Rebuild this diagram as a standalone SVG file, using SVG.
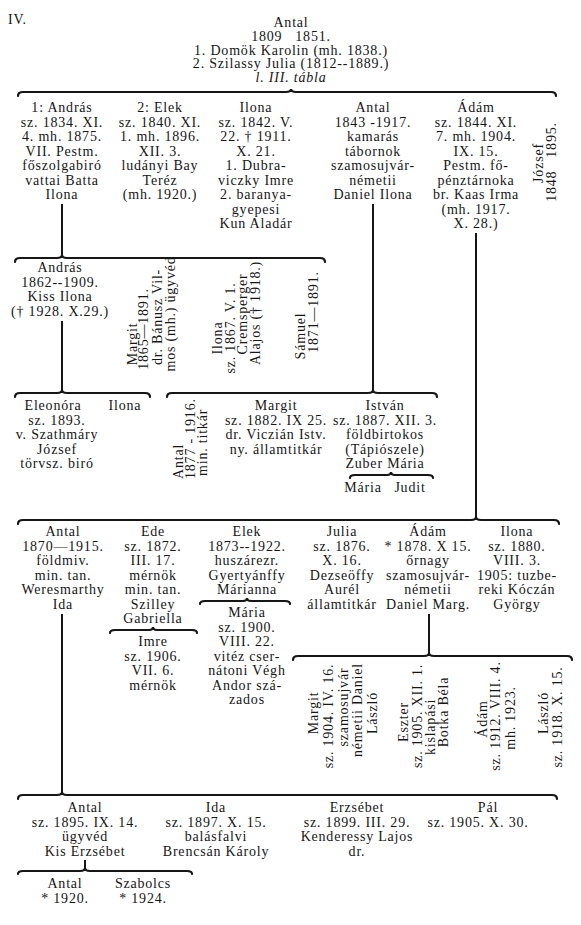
<svg xmlns="http://www.w3.org/2000/svg" width="581" height="925" viewBox="0 0 581 925">
<style>
.t{font-family:"Liberation Serif","Times New Roman",serif;font-size:14px;fill:#161616;text-anchor:middle;letter-spacing:0.8px}
.s{text-anchor:start}
.i{font-style:italic}
.l{stroke:#161616;stroke-width:2;fill:none}
.b{stroke:#161616;stroke-width:2.2;fill:none;stroke-linecap:round}
</style>
<rect width="581" height="925" fill="#ffffff"/>
<g id="connectors">
<path class="b" d="M18 96 Q18 92 23 92 L286 92 Q291 92 291 89 Q291 92 296 92 L551 92 Q556 92 556 96"/>
<path class="l" d="M62 204 V258"/>
<path class="l" d="M373 204 V393"/>
<path class="l" d="M476 233 V520"/>
<path class="b" d="M15 262 Q15 258 20 258 L57 258 Q62 258 62 255 Q62 258 67 258 L320 258 Q325 258 325 262"/>
<path class="l" d="M62 321 V393"/>
<path class="b" d="M15 397 Q15 393 20 393 L57 393 Q62 393 62 390 Q62 393 67 393 L145 393 Q150 393 150 397"/>
<path class="b" d="M167 397 Q167 393 172 393 L368 393 Q373 393 373 390 Q373 393 378 393 L432 393 Q437 393 437 397"/>
<path class="b" d="M350 478 Q350 475 355 475 L387 475 Q391 475 391 472 Q391 475 395 475 L428 475 Q433 475 433 478"/>
<path class="b" d="M18 524 Q18 520 23 520 L471 520 Q476 520 476 517 Q476 520 481 520 L554 520 Q559 520 559 524"/>
<path class="l" d="M62 614 V795"/>
<path class="b" d="M110 633 Q110 630 115 630 L149 630 Q153 630 153 627 Q153 630 157 630 L192 630 Q197 630 197 633"/>
<path class="b" d="M200 604 Q200 601 205 601 L243 601 Q247 601 247 598 Q247 601 251 601 L285 601 Q290 601 290 604"/>
<path class="l" d="M429 614 V656"/>
<path class="b" d="M293 660 Q293 656 298 656 L424 656 Q429 656 429 653 Q429 656 434 656 L567 656 Q572 656 572 660"/>
<path class="b" d="M18 799 Q18 795 23 795 L57 795 Q62 795 62 792 Q62 795 67 795 L552 795 Q557 795 557 799"/>
<path class="l" d="M85 860 V871"/>
<path class="b" d="M18 874 Q18 871 23 871 L80 871 Q85 871 85 868 Q85 871 90 871 L187 871 Q192 871 192 874"/>
</g>
<g id="title"><text class="t s" x="8" y="24">IV.</text></g>
<g id="root">
<text class="t" x="291" y="27">Antal</text>
<text class="t" x="291" y="40.8" style="white-space:pre">1809   1851.</text>
<text class="t" x="291" y="54.6">1. Domök Karolin (mh. 1838.)</text>
<text class="t" x="291" y="68.4">2. Szilassy Julia (1812--1889.)</text>
<text class="t i" x="291" y="82.2">l. III. tábla</text>
</g>
<g id="andras1834"><text class="t" x="62" y="112"><tspan x="62">1: András</tspan><tspan x="62" dy="14.5">sz. 1834. XI.</tspan><tspan x="62" dy="14.5">4. mh. 1875.</tspan><tspan x="62" dy="14.5">VII. Pestm.</tspan><tspan x="62" dy="14.5">főszolgabiró</tspan><tspan x="62" dy="14.5">vattai Batta</tspan><tspan x="62" dy="14.5">Ilona</tspan></text></g>
<g id="elek1840"><text class="t" x="160" y="112"><tspan x="160">2: Elek</tspan><tspan x="160" dy="14.5">sz. 1840. XI.</tspan><tspan x="160" dy="14.5">1. mh. 1896.</tspan><tspan x="160" dy="14.5">XII. 3.</tspan><tspan x="160" dy="14.5">ludányi Bay</tspan><tspan x="160" dy="14.5">Teréz</tspan><tspan x="160" dy="14.5">(mh. 1920.)</tspan></text></g>
<g id="ilona1842"><text class="t" x="256" y="112"><tspan x="256">Ilona</tspan><tspan x="256" dy="14.5">sz. 1842. V.</tspan><tspan x="256" dy="14.5">22. † 1911.</tspan><tspan x="256" dy="14.5">X. 21.</tspan><tspan x="256" dy="14.5">1. Dubra-</tspan><tspan x="256" dy="14.5">viczky Imre</tspan><tspan x="256" dy="14.5">2. baranya-</tspan><tspan x="256" dy="14.5">gyepesi</tspan><tspan x="256" dy="14.5">Kun Aladár</tspan></text></g>
<g id="antal1843"><text class="t" x="373" y="112"><tspan x="373">Antal</tspan><tspan x="373" dy="14.5">1843 -1917.</tspan><tspan x="373" dy="14.5">kamarás</tspan><tspan x="373" dy="14.5">tábornok</tspan><tspan x="373" dy="14.5">szamosujvár-</tspan><tspan x="373" dy="14.5">németii</tspan><tspan x="373" dy="14.5">Daniel Ilona</tspan></text></g>
<g id="adam1844"><text class="t" x="476" y="112"><tspan x="476">Ádám</tspan><tspan x="476" dy="14.5">sz. 1844. XI.</tspan><tspan x="476" dy="14.5">7. mh. 1904.</tspan><tspan x="476" dy="14.5">IX. 15.</tspan><tspan x="476" dy="14.5">Pestm. fő-</tspan><tspan x="476" dy="14.5">pénztárnoka</tspan><tspan x="476" dy="14.5">br. Kaas Irma</tspan><tspan x="476" dy="14.5">(mh. 1917.</tspan><tspan x="476" dy="14.5">X. 28.)</tspan></text></g>
<g id="jozsef1848"><text class="t" transform="rotate(-90)"><tspan x="-163" y="542.5">József</tspan><tspan x="-162" y="555.5" style="white-space:pre">1848   1895.</tspan></text></g>
<g id="andras1862"><text class="t" x="60" y="272"><tspan x="60">András</tspan><tspan x="60" dy="14.5">1862--1909.</tspan><tspan x="60" dy="14.5">Kiss Ilona</tspan><tspan x="60" dy="14.5">(† 1928. X.29.)</tspan></text></g>
<g id="margit1865"><text class="t" transform="rotate(-90)"><tspan x="-344" y="136.5">Margit</tspan><tspan x="-329" y="147.5">1865—1891.</tspan><tspan x="-317" y="161.5">dr. Bánusz Vil-</tspan><tspan x="-314" y="174.5">mos (mh.) ügyvéd</tspan></text></g>
<g id="ilona1867"><text class="t" transform="rotate(-90)"><tspan x="-338" y="221.5">Ilona</tspan><tspan x="-328" y="234.5">sz. 1867. V. 1.</tspan><tspan x="-314" y="246.5">Cremsperger</tspan><tspan x="-313" y="259.5">Alajos († 1918.)</tspan></text></g>
<g id="samuel1871"><text class="t" transform="rotate(-90)"><tspan x="-336" y="304.5">Sámuel</tspan><tspan x="-312" y="317.5">1871—1891.</tspan></text></g>
<g id="eleonora"><text class="t" x="57" y="410"><tspan x="53">Eleonóra</tspan><tspan x="57" dy="14.5">sz. 1893.</tspan><tspan x="57" dy="14.5">v. Szathmáry</tspan><tspan x="57" dy="14.5">József</tspan><tspan x="57" dy="14.5">törvsz. biró</tspan></text></g>
<g id="ilona-e"><text class="t" x="125" y="410">Ilona</text></g>
<g id="antal1877"><text class="t s" transform="rotate(-90)"><tspan x="-479" y="182.5">Antal</tspan><tspan x="-479" y="194.5">1877 - 1916.</tspan><tspan x="-476" y="206.5">min. titkár</tspan></text></g>
<g id="margit1882"><text class="t" x="276" y="410"><tspan x="276">Margit</tspan><tspan x="276" dy="14.5">sz. 1882. IX 25.</tspan><tspan x="276" dy="14.5">dr. Viczián Istv.</tspan><tspan x="276" dy="14.5">ny. államtitkár</tspan></text></g>
<g id="istvan1887"><text class="t" x="385" y="410"><tspan x="385">István</tspan><tspan x="385" dy="14.5">sz. 1887. XII. 3.</tspan><tspan x="385" dy="14.5">földbirtokos</tspan><tspan x="385" dy="14.5">(Tápiószele)</tspan><tspan x="385" dy="14.5">Zuber Mária</tspan></text></g>
<g id="maria-i"><text class="t" x="363" y="492">Mária</text></g>
<g id="judit"><text class="t" x="410" y="492">Judit</text></g>
<g id="antal1870"><text class="t" x="63" y="536"><tspan x="63">Antal</tspan><tspan x="63" dy="14.5">1870—1915.</tspan><tspan x="63" dy="14.5">földmiv.</tspan><tspan x="63" dy="14.5">min. tan.</tspan><tspan x="63" dy="14.5">Weresmarthy</tspan><tspan x="63" dy="14.5">Ida</tspan></text></g>
<g id="ede1872"><text class="t" x="153" y="536"><tspan x="153">Ede</tspan><tspan x="153" dy="14.5">sz. 1872.</tspan><tspan x="153" dy="14.5">III. 17.</tspan><tspan x="153" dy="14.5">mérnök</tspan><tspan x="153" dy="14.5">min. tan.</tspan><tspan x="153" dy="14.5">Szilley</tspan><tspan x="153" dy="14.5">Gabriella</tspan></text></g>
<g id="imre1906"><text class="t" x="153" y="646"><tspan x="153">Imre</tspan><tspan x="153" dy="14.5">sz. 1906.</tspan><tspan x="153" dy="14.5">VII. 6.</tspan><tspan x="153" dy="14.5">mérnök</tspan></text></g>
<g id="elek1873"><text class="t" x="247" y="536"><tspan x="247">Elek</tspan><tspan x="247" dy="14.5">1873--1922.</tspan><tspan x="247" dy="14.5">huszárezr.</tspan><tspan x="247" dy="14.5">Gyertyánffy</tspan><tspan x="247" dy="14.5">Márianna</tspan></text></g>
<g id="maria1900"><text class="t" x="247" y="617"><tspan x="247">Mária</tspan><tspan x="247" dy="14.5">sz. 1900.</tspan><tspan x="247" dy="14.5">VIII. 22.</tspan><tspan x="247" dy="14.5">vitéz cser-</tspan><tspan x="247" dy="14.5">nátoni Végh</tspan><tspan x="247" dy="14.5">Andor szá-</tspan><tspan x="247" dy="14.5">zados</tspan></text></g>
<g id="julia1876"><text class="t" x="342" y="536"><tspan x="342">Julia</tspan><tspan x="342" dy="14.5">sz. 1876.</tspan><tspan x="342" dy="14.5">X. 16.</tspan><tspan x="342" dy="14.5">Dezseöffy</tspan><tspan x="342" dy="14.5">Aurél</tspan><tspan x="342" dy="14.5">államtitkár</tspan></text></g>
<g id="adam1878"><text class="t" x="428" y="536"><tspan x="428">Ádám</tspan><tspan x="428" dy="14.5">* 1878. X 15.</tspan><tspan x="428" dy="14.5">őrnagy</tspan><tspan x="428" dy="14.5">szamosujvár-</tspan><tspan x="428" dy="14.5">németii</tspan><tspan x="428" dy="14.5">Daniel Marg.</tspan></text></g>
<g id="ilona1880"><text class="t" x="517" y="536"><tspan x="517">Ilona</tspan><tspan x="517" dy="14.5">sz. 1880.</tspan><tspan x="517" dy="14.5">VIII. 3.</tspan><tspan x="517" dy="14.5">1905: tuzbe-</tspan><tspan x="517" dy="14.5">reki Kóczán</tspan><tspan x="517" dy="14.5">György</tspan></text></g>
<g id="margit1904"><text class="t" transform="rotate(-90)"><tspan x="-713" y="317.5">Margit</tspan><tspan x="-716" y="332.5">sz. 1904. IV. 16.</tspan><tspan x="-707" y="347.5">szamosujvár</tspan><tspan x="-710" y="361.5">németii Daniel</tspan><tspan x="-713" y="376.5">László</tspan></text></g>
<g id="eszter1905"><text class="t" transform="rotate(-90)"><tspan x="-722" y="407.5">Eszter</tspan><tspan x="-716" y="421.5">sz. 1905. XII. 1.</tspan><tspan x="-727" y="434.5">kislapási</tspan><tspan x="-712" y="447.5">Botka Béla</tspan></text></g>
<g id="adam1912"><text class="t" transform="rotate(-90)"><tspan x="-719" y="486.5">Ádám</tspan><tspan x="-716" y="499.5">sz. 1912. VIII. 4.</tspan><tspan x="-718" y="514.5">mh. 1923.</tspan></text></g>
<g id="laszlo1918"><text class="t" transform="rotate(-90)"><tspan x="-713" y="547.5">László</tspan><tspan x="-717" y="561.5">sz. 1918. X. 15.</tspan></text></g>
<g id="antal1895"><text class="t" x="85" y="812"><tspan x="85">Antal</tspan><tspan x="85" dy="14.5">sz. 1895. IX. 14.</tspan><tspan x="85" dy="14.5">ügyvéd</tspan><tspan x="85" dy="14.5">Kis Erzsébet</tspan></text></g>
<g id="ida1897"><text class="t" x="216" y="812"><tspan x="216">Ida</tspan><tspan x="216" dy="14.5">sz. 1897. X. 15.</tspan><tspan x="216" dy="14.5">balásfalvi</tspan><tspan x="216" dy="14.5">Brencsán Károly</tspan></text></g>
<g id="erzsebet1899"><text class="t" x="357" y="812"><tspan x="357">Erzsébet</tspan><tspan x="357" dy="14.5">sz. 1899. III. 29.</tspan><tspan x="357" dy="14.5">Kenderessy Lajos</tspan><tspan x="357" dy="14.5">dr.</tspan></text></g>
<g id="pal1905"><text class="t" x="478" y="812"><tspan x="488">Pál</tspan><tspan x="478" dy="14.5">sz. 1905. X. 30.</tspan></text></g>
<g id="antal1920"><text class="t" x="65" y="888"><tspan x="65">Antal</tspan><tspan x="65" dy="14.5">* 1920.</tspan></text></g>
<g id="szabolcs1924"><text class="t" x="143" y="888"><tspan x="143">Szabolcs</tspan><tspan x="143" dy="14.5">* 1924.</tspan></text></g>
</svg>
